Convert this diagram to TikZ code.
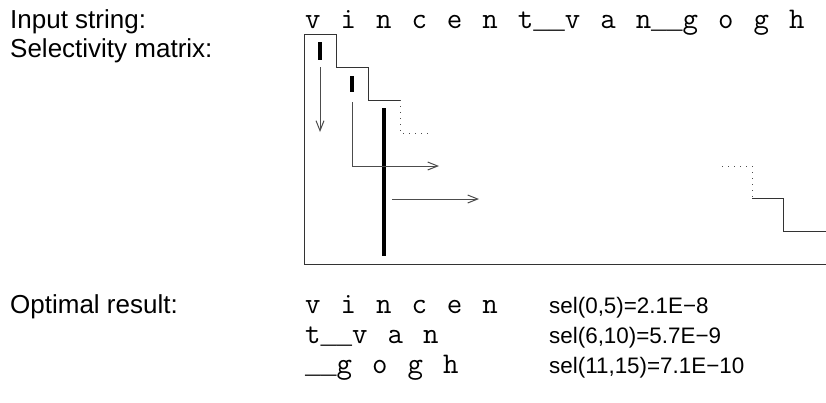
\documentclass[tikz,border=0pt]{standalone}
\usepackage{fontspec}
\setmainfont{Liberation Sans}
\newfontfamily\lijnfont{Liberation Mono}
\usetikzlibrary{arrows.meta}
\newcommand\brederuimte{\spaceskip 20pt\relax}
% doorlopend liggend streepje, even breed als een letter
\newcommand\us{{\fontsize{26.25}{30}\lijnfont\selectfont\_}}

\begin{document}
\begin{tikzpicture}[x=1pt,y=-1pt,
    kop/.style={anchor=base west, inner sep=0pt, font=\fontsize{26}{30}\selectfont},
    mono/.style={anchor=base west, inner sep=0pt, font={\fontsize{30}{34}\selectfont\ttfamily\addfontfeature{FakeBold=0.6}\brederuimte}},
    sel/.style={anchor=base west, inner sep=0pt, font=\fontsize{22.4}{26}\selectfont},
    rand/.style={draw=black!80, line width=1pt},
    stip/.style={draw=black!70, line width=1pt, dash pattern=on 1pt off 5pt},
    balk/.style={draw=black, line width=3.5pt},
    pijl/.style={draw=black!70, line width=1pt, -{Straight Barb[length=10pt,width=8pt]}}]
    \useasboundingbox (0,0) rectangle (826,402);

    % Teksten links
    \node[kop] (invoer) at (10,28) {Input string:};
    \node[kop] (matrix) at (10,57) {Selectivity matrix:};
    \node[kop] (optimaal) at (10,313) {Optimal result:};

    % Invoerstring en resultaat
    \node[mono] (string) at (305,28) {v i n c e n t\us\us v a n\us\us g o g h};
    \node[mono] (deel1) at (305,313) {v i n c e n};
    \node[mono] (deel2) at (305,343) {t\us\us v a n};
    \node[mono] (deel3) at (305,373) {\us\us g o g h};
    \node[sel] (sel1) at (549,313) {sel(0,5)=2.1E−8};
    \node[sel] (sel2) at (549,343) {sel(6,10)=5.7E−9};
    \node[sel] (sel3) at (549,373) {sel(11,15)=7.1E−10};

    % Rand van de matrix met trappen
    \draw[rand] (400,100) -- (368,100) -- (368,67) -- (336,67) -- (336,34) -- (304,34)
        -- (304,264) -- (826,264);
    \draw[stip] (400,100) -- (400,133) -- (428,133);
    \draw[stip] (722,166) -- (752,166) -- (752,198);
    \draw[rand] (752,198) -- (783,198) -- (783,231) -- (826,231);

    % Balken
    \coordinate (b1a) at (320,42);  \coordinate (b1b) at (320,60);
    \coordinate (b2a) at (352,76);  \coordinate (b2b) at (352,92);
    \coordinate (b3a) at (384,108); \coordinate (b3b) at (384,256);
    \draw[balk] (b1a) -- (b1b);
    \draw[balk] (b2a) -- (b2b);
    \draw[balk] (b3a) -- (b3b);

    % Pijlen
    \coordinate (p1a) at (320,67);  \coordinate (p1b) at (320,132);
    \coordinate (p2a) at (352,102); \coordinate (p2b) at (439,166);
    \coordinate (p3a) at (392,199); \coordinate (p3b) at (479,199);
    \draw[pijl] (p1a) -- (p1b);
    \draw[pijl] (p2a) |- (p2b);
    \draw[pijl] (p3a) -- (p3b);
\end{tikzpicture}
\end{document}
